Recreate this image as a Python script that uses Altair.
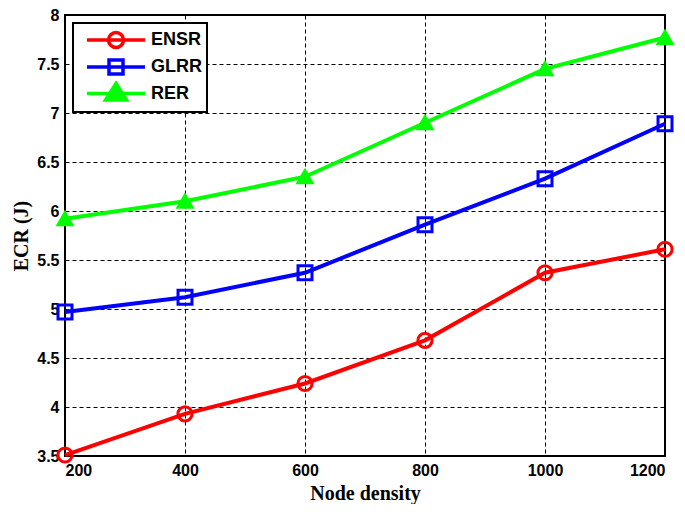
import altair as alt
import pandas as pd

nodes = [200, 400, 600, 800, 1000, 1200]
ensr = [3.51, 3.93, 4.24, 4.68, 5.37, 5.61]
glrr = [4.97, 5.12, 5.37, 5.86, 6.33, 6.89]
rer = [5.92, 6.10, 6.35, 6.90, 7.45, 7.77]
series_names = ["ENSR", "GLRR", "RER"]
colors = ["#ff0000", "#0000ff", "#00ff00"]
fills = ["transparent", "transparent", "#00ff00"]
shapes = ["circle", "square", "triangle-up"]
sizes = [200, 190, 300]
legend_paths = [
    "M-2.9,0L2.9,0M0.75,0A0.75,0.75,0,1,1,-0.75,0A0.75,0.75,0,1,1,0.75,0",
    "M-2.9,0L2.9,0M-0.7,-0.7L0.7,-0.7L0.7,0.7L-0.7,0.7Z",
    "M-2.9,0L2.9,0M0,-1.0L1.05,0.65L-1.05,0.65Z",
]
x_ticks = [200, 400, 600, 800, 1000, 1200]
y_ticks = [3.5, 4, 4.5, 5, 5.5, 6, 6.5, 7, 7.5, 8]

rows = []
for name, vals in zip(series_names, [ensr, glrr, rer]):
    for n, v in zip(nodes, vals):
        rows.append({"series": name, "nodes": n, "ecr": v})
df = pd.DataFrame(rows)

x = alt.X("nodes:Q", scale=alt.Scale(domain=[200, 1200], nice=False),
          axis=alt.Axis(values=x_ticks, format="d", title="Node density"))
y = alt.Y("ecr:Q", scale=alt.Scale(domain=[3.5, 8], nice=False, zero=False),
          axis=alt.Axis(values=y_ticks, format="~g", title="ECR (J)"))

stroke_plain = alt.Stroke("series:N", scale=alt.Scale(domain=series_names, range=colors), legend=None)
base = alt.Chart(df)

lines = base.mark_line(strokeWidth=4).encode(x=x, y=y, stroke=stroke_plain)

points = base.mark_point(filled=False, strokeWidth=3, opacity=1).encode(
    x=x, y=y, stroke=stroke_plain,
    shape=alt.Shape("series:N", scale=alt.Scale(domain=series_names, range=shapes), legend=None),
    fill=alt.Fill("series:N", scale=alt.Scale(domain=series_names, range=fills), legend=None),
    size=alt.Size("series:N", scale=alt.Scale(domain=series_names, range=sizes), legend=None),
)

legend_layer = base.mark_point(filled=False, opacity=1).encode(
    x=x, y=y,
    stroke=alt.Stroke("series:N", scale=alt.Scale(domain=series_names, range=colors), title=None),
    shape=alt.Shape("series:N", scale=alt.Scale(domain=series_names, range=legend_paths), title=None),
    fill=alt.Fill("series:N", scale=alt.Scale(domain=series_names, range=fills), title=None),
).transform_filter("false")

chart = alt.layer(lines, points, legend_layer).resolve_scale(
    stroke="independent", shape="independent", fill="independent", size="independent"
).properties(
    width=600, height=441,
    autosize=alt.AutoSizeParams(type="none"),
    padding={"left": 57, "top": 7, "right": 12, "bottom": 48},
).configure_view(
    stroke="black", strokeWidth=2
).configure_axis(
    grid=True, gridColor="black", gridDash=[4, 3], gridWidth=1, gridOpacity=1,
    domain=False, ticks=False,
    labelFont="Liberation Sans", labelFontSize=16, labelFontWeight="bold", labelColor="black",
    titleFont="Liberation Serif", titleFontSize=20, titleFontWeight="bold", titleColor="black",
).configure_axisX(
    labelPadding=6, titlePadding=5
).configure_axisY(
    labelPadding=6, titlePadding=5
).configure_legend(
    orient="top-left", offset=8, padding=5,
    strokeColor="black", strokeWidth=2, fillColor="white", cornerRadius=0,
    labelFont="Liberation Sans", labelFontSize=18, labelFontWeight="bold", labelColor="black",
    symbolSize=400, symbolStrokeWidth=3.5, symbolOffset=26, labelOffset=23, rowPadding=-4.5,
)

chart.save("out.html", embed_options={"renderer": "svg", "actions": False})
